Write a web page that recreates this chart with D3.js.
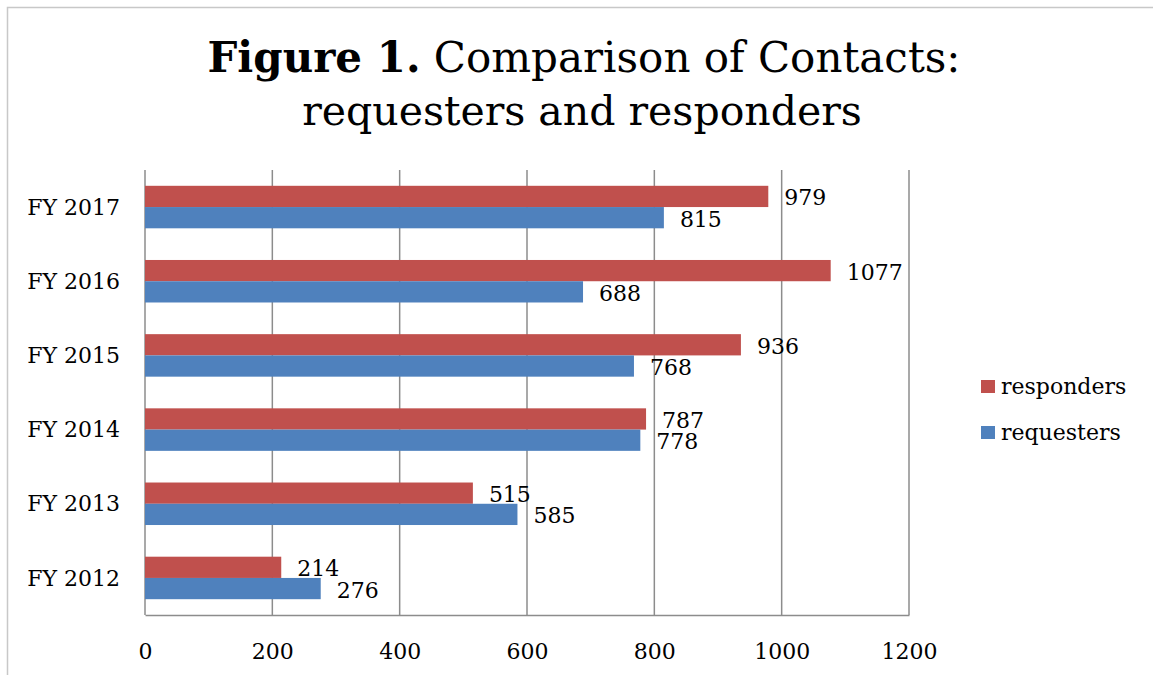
<!DOCTYPE html>
<html>
<head>
<meta charset="utf-8">
<script src="https://cdn.jsdelivr.net/npm/d3@7"></script>
<style>
  body { margin: 0; background: #fff; }
  text { font-family: "DejaVu Serif", Georgia, serif; fill: #000; }
</style>
</head>
<body>
<div id="container"></div>
<script>
/* DATA */
const years = ["FY 2012", "FY 2013", "FY 2014", "FY 2015", "FY 2016", "FY 2017"]
const requesters = [276, 585, 778, 768, 688, 815]
const responders = [214, 515, 787, 936, 1077, 979]
const xTicks = [0, 200, 400, 600, 800, 1000, 1200]
const seriesNames = ["responders", "requesters"]
const colors = { responders: "#C0504D", requesters: "#4F81BD" }

/* CONSTANTS */
const width = 1153,
  height = 675,
  margin = { top: 170, bottom: 60, left: 145, right: 244 }

const data = years.map((y, i) => ({
  year: y,
  responders: responders[i],
  requesters: requesters[i]
}))

const svg = d3.select("#container")
  .append("svg")
  .attr("width", width)
  .attr("height", height)

// outer chart border
svg.append("rect")
  .attr("x", 7.5)
  .attr("y", 7.5)
  .attr("width", 1200)
  .attr("height", 700)
  .attr("fill", "none")
  .attr("stroke", "#c8c8c8")
  .attr("stroke-width", 1.5)

// SCALES
const xScale = d3.scaleLinear()
  .domain([0, 1200])
  .range([margin.left, width - margin.right])

// top of chart is the latest year
const yScale = d3.scaleBand()
  .domain(years.slice().reverse())
  .range([margin.top, height - margin.bottom])
  .paddingInner(0.427)
  .paddingOuter(0.213)

const ySub = d3.scaleBand()
  .domain(seriesNames)
  .range([0, yScale.bandwidth()])

// GRIDLINES
svg.append("g")
  .selectAll("line")
  .data(xTicks)
  .join("line")
  .attr("x1", d => xScale(d))
  .attr("x2", d => xScale(d))
  .attr("y1", margin.top)
  .attr("y2", height - margin.bottom)
  .attr("stroke", "#8c8c8c")
  .attr("stroke-width", 1.5)

// AXES
const xAxis = d3.axisBottom(xScale)
  .tickValues(xTicks)
  .tickFormat(d3.format("d"))
  .tickSize(0)
  .tickPadding(28)

svg.append("g")
  .attr("transform", `translate(0, ${height - margin.bottom})`)
  .call(xAxis)
  .call(g => g.select(".domain").attr("stroke", "#8c8c8c").attr("stroke-width", 1.5))
  .call(g => g.selectAll("text")
    .style("font-family", "DejaVu Serif")
    .attr("font-size", 22)
    .attr("fill", "#000"))

const yAxis = d3.axisLeft(yScale)
  .tickSize(0)
  .tickPadding(25)

svg.append("g")
  .attr("transform", `translate(${margin.left}, 0)`)
  .call(yAxis)
  .call(g => g.select(".domain").remove())
  .call(g => g.selectAll("text")
    .style("font-family", "DejaVu Serif")
    .attr("font-size", 22)
    .attr("fill", "#000")
    .attr("dy", "0.35em"))

// BARS
const groups = svg.append("g")
  .selectAll("g")
  .data(data)
  .join("g")
  .attr("transform", d => `translate(0, ${yScale(d.year)})`)

groups.selectAll("rect")
  .data(d => seriesNames.map(k => ({ key: k, value: d[k] })))
  .join("rect")
  .attr("x", xScale(0))
  .attr("y", d => ySub(d.key))
  .attr("width", d => xScale(d.value) - xScale(0))
  .attr("height", ySub.bandwidth())
  .attr("fill", d => colors[d.key])

// DATA LABELS
groups.selectAll("text")
  .data(d => seriesNames.map(k => ({ key: k, value: d[k] })))
  .join("text")
  .attr("x", d => xScale(d.value) + 16)
  .attr("y", d => ySub(d.key) + ySub.bandwidth() / 2 + 9)
  .attr("font-size", 22)
  .text(d => d.value)

// LEGEND
const legend = svg.append("g")
  .attr("transform", "translate(981, 380)")

legend.selectAll("rect")
  .data(seriesNames)
  .join("rect")
  .attr("x", 0)
  .attr("y", (d, i) => i * 46)
  .attr("width", 14)
  .attr("height", 13)
  .attr("fill", d => colors[d])

legend.selectAll("text")
  .data(seriesNames)
  .join("text")
  .attr("x", 20)
  .attr("y", (d, i) => i * 46 + 14)
  .attr("font-size", 22)
  .text(d => d)

// TITLE
const title = svg.append("text")
  .attr("x", 584)
  .attr("y", 72)
  .attr("text-anchor", "middle")
  .attr("font-size", 42)

title.append("tspan")
  .attr("font-weight", "bold")
  .text("Figure 1.")
title.append("tspan")
  .text(" Comparison of Contacts:")

svg.append("text")
  .attr("x", 582)
  .attr("y", 125)
  .attr("text-anchor", "middle")
  .attr("font-size", 41)
  .text("requesters and responders")
</script>
</body>
</html>
